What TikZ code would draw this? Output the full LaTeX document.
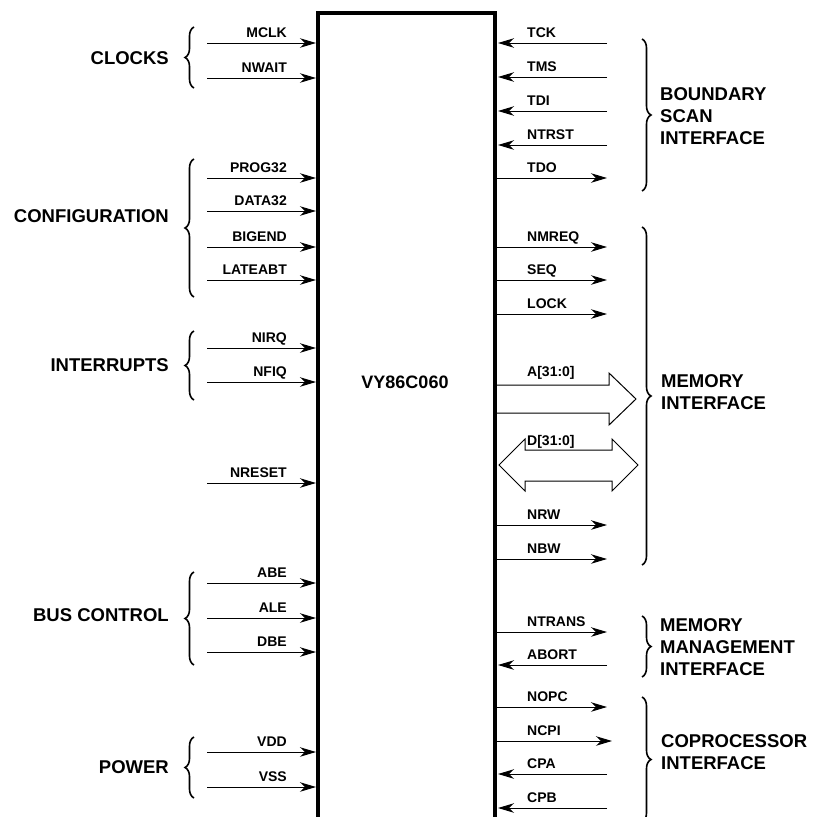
\documentclass[tikz,border=0pt]{standalone}
\usepackage{fontspec}
\setmainfont{Liberation Sans}
\usetikzlibrary{arrows.meta,decorations.pathreplacing}
\begin{document}
\begin{tikzpicture}[x=1pt,y=-1pt,
  sig/.style={line width=1pt,-{Stealth[length=16pt,width=9.5pt,inset=5pt]}},
  pin/.style={font=\fontsize{14}{16}\selectfont\bfseries, inner sep=0pt},
  grp/.style={font=\fontsize{18.5}{22}\selectfont\bfseries, inner sep=0pt, align=left},
  brc/.style={decorate, decoration={brace, amplitude=9pt}, line width=1.6pt},
  bus/.style={line width=1pt, line join=miter},
  chipline/.style={line width=4.5pt}]
\useasboundingbox (0,0) rectangle (813,817);

% chip outline (open at the bottom)
\coordinate (chip-bl) at (318,822);
\coordinate (chip-tl) at (318,13);
\coordinate (chip-tr) at (495,13);
\coordinate (chip-br) at (495,822);
\draw[chipline] (chip-bl) -- (chip-tl) -- (chip-tr) -- (chip-br);
\node[font=\fontsize{18}{22}\selectfont\bfseries, inner sep=0pt] (chip) at (405,382) {VY86C060};

% left inputs
\foreach \n/\y in {MCLK/43, NWAIT/78, PROG32/178, DATA32/211, BIGEND/247, LATEABT/280,
                   NIRQ/348, NFIQ/382, NRESET/483, ABE/583, ALE/618, DBE/652, VDD/752, VSS/787} {
  \coordinate (\n-s) at (207,\y);
  \coordinate (\n-e) at (316,\y);
  \draw[sig] (\n-s) -- (\n-e);
  \node[pin, anchor=base east] (\n-lbl) at (287,\y-6) {\n};
}

% right outputs
\foreach \n/\y/\e in {TDO/178/607, NMREQ/247/607, SEQ/280/607, LOCK/314/607, NRW/525/607,
                      NBW/559/607, NTRANS/632/607, NOPC/707/607, NCPI/741/612} {
  \coordinate (\n-s) at (497,\y);
  \coordinate (\n-e) at (\e,\y);
  \draw[sig] (\n-s) -- (\n-e);
  \node[pin, anchor=base west] (\n-lbl) at (527,\y-6) {\n};
}

% right inputs
\foreach \n/\y in {TCK/43, TMS/77, TDI/111, NTRST/145, ABORT/665, CPA/774, CPB/808} {
  \coordinate (\n-s) at (607,\y);
  \coordinate (\n-e) at (498,\y);
  \draw[sig] (\n-s) -- (\n-e);
  \node[pin, anchor=base west] (\n-lbl) at (527,\y-6) {\n};
}

% address bus (outlined arrow)
\draw[bus] (497,385) -- (609,385) -- (609,373) -- (636,399) -- (609,425) -- (609,413) -- (497,413);
\node[pin, anchor=base west] (A-lbl) at (527,376) {A[31:0]};

% data bus (outlined double arrow)
\draw[bus] (499,465) -- (525,439) -- (525,450) -- (612,450) -- (612,439) -- (638,465)
  -- (612,491) -- (612,481) -- (525,481) -- (525,491) -- cycle;
\node[pin, anchor=base west] (D-lbl) at (527,445) {D[31:0]};

% left braces
\draw[brc] (194,88) -- (194,27);
\draw[brc] (194,297) -- (194,159);
\draw[brc] (194,400) -- (194,331);
\draw[brc] (194,665) -- (194,572);
\draw[brc] (194,798) -- (194,737);

% right braces
\draw[brc] (642,39) -- (642,191);
\draw[brc] (642,227) -- (642,565);
\draw[brc] (642,616) -- (642,677);
\draw[brc] (642,697) -- (642,822);

% group labels
\node[grp, anchor=east] (clocks) at (169,58) {CLOCKS};
\node[grp, anchor=east] (config) at (169,216) {CONFIGURATION};
\node[grp, anchor=east] (irq) at (169,365) {INTERRUPTS};
\node[grp, anchor=east] (busctl) at (169,615) {BUS CONTROL};
\node[grp, anchor=east] (power) at (169,767) {POWER};

\node[grp, anchor=west] (bscan) at (660,116) {BOUNDARY\\SCAN\\INTERFACE};
\node[grp, anchor=west] (memif) at (661,392) {MEMORY\\INTERFACE};
\node[grp, anchor=west] (mmu) at (660,647) {MEMORY\\MANAGEMENT\\INTERFACE};
\node[grp, anchor=west] (copro) at (661,752) {COPROCESSOR\\INTERFACE};
\end{tikzpicture}
\end{document}
